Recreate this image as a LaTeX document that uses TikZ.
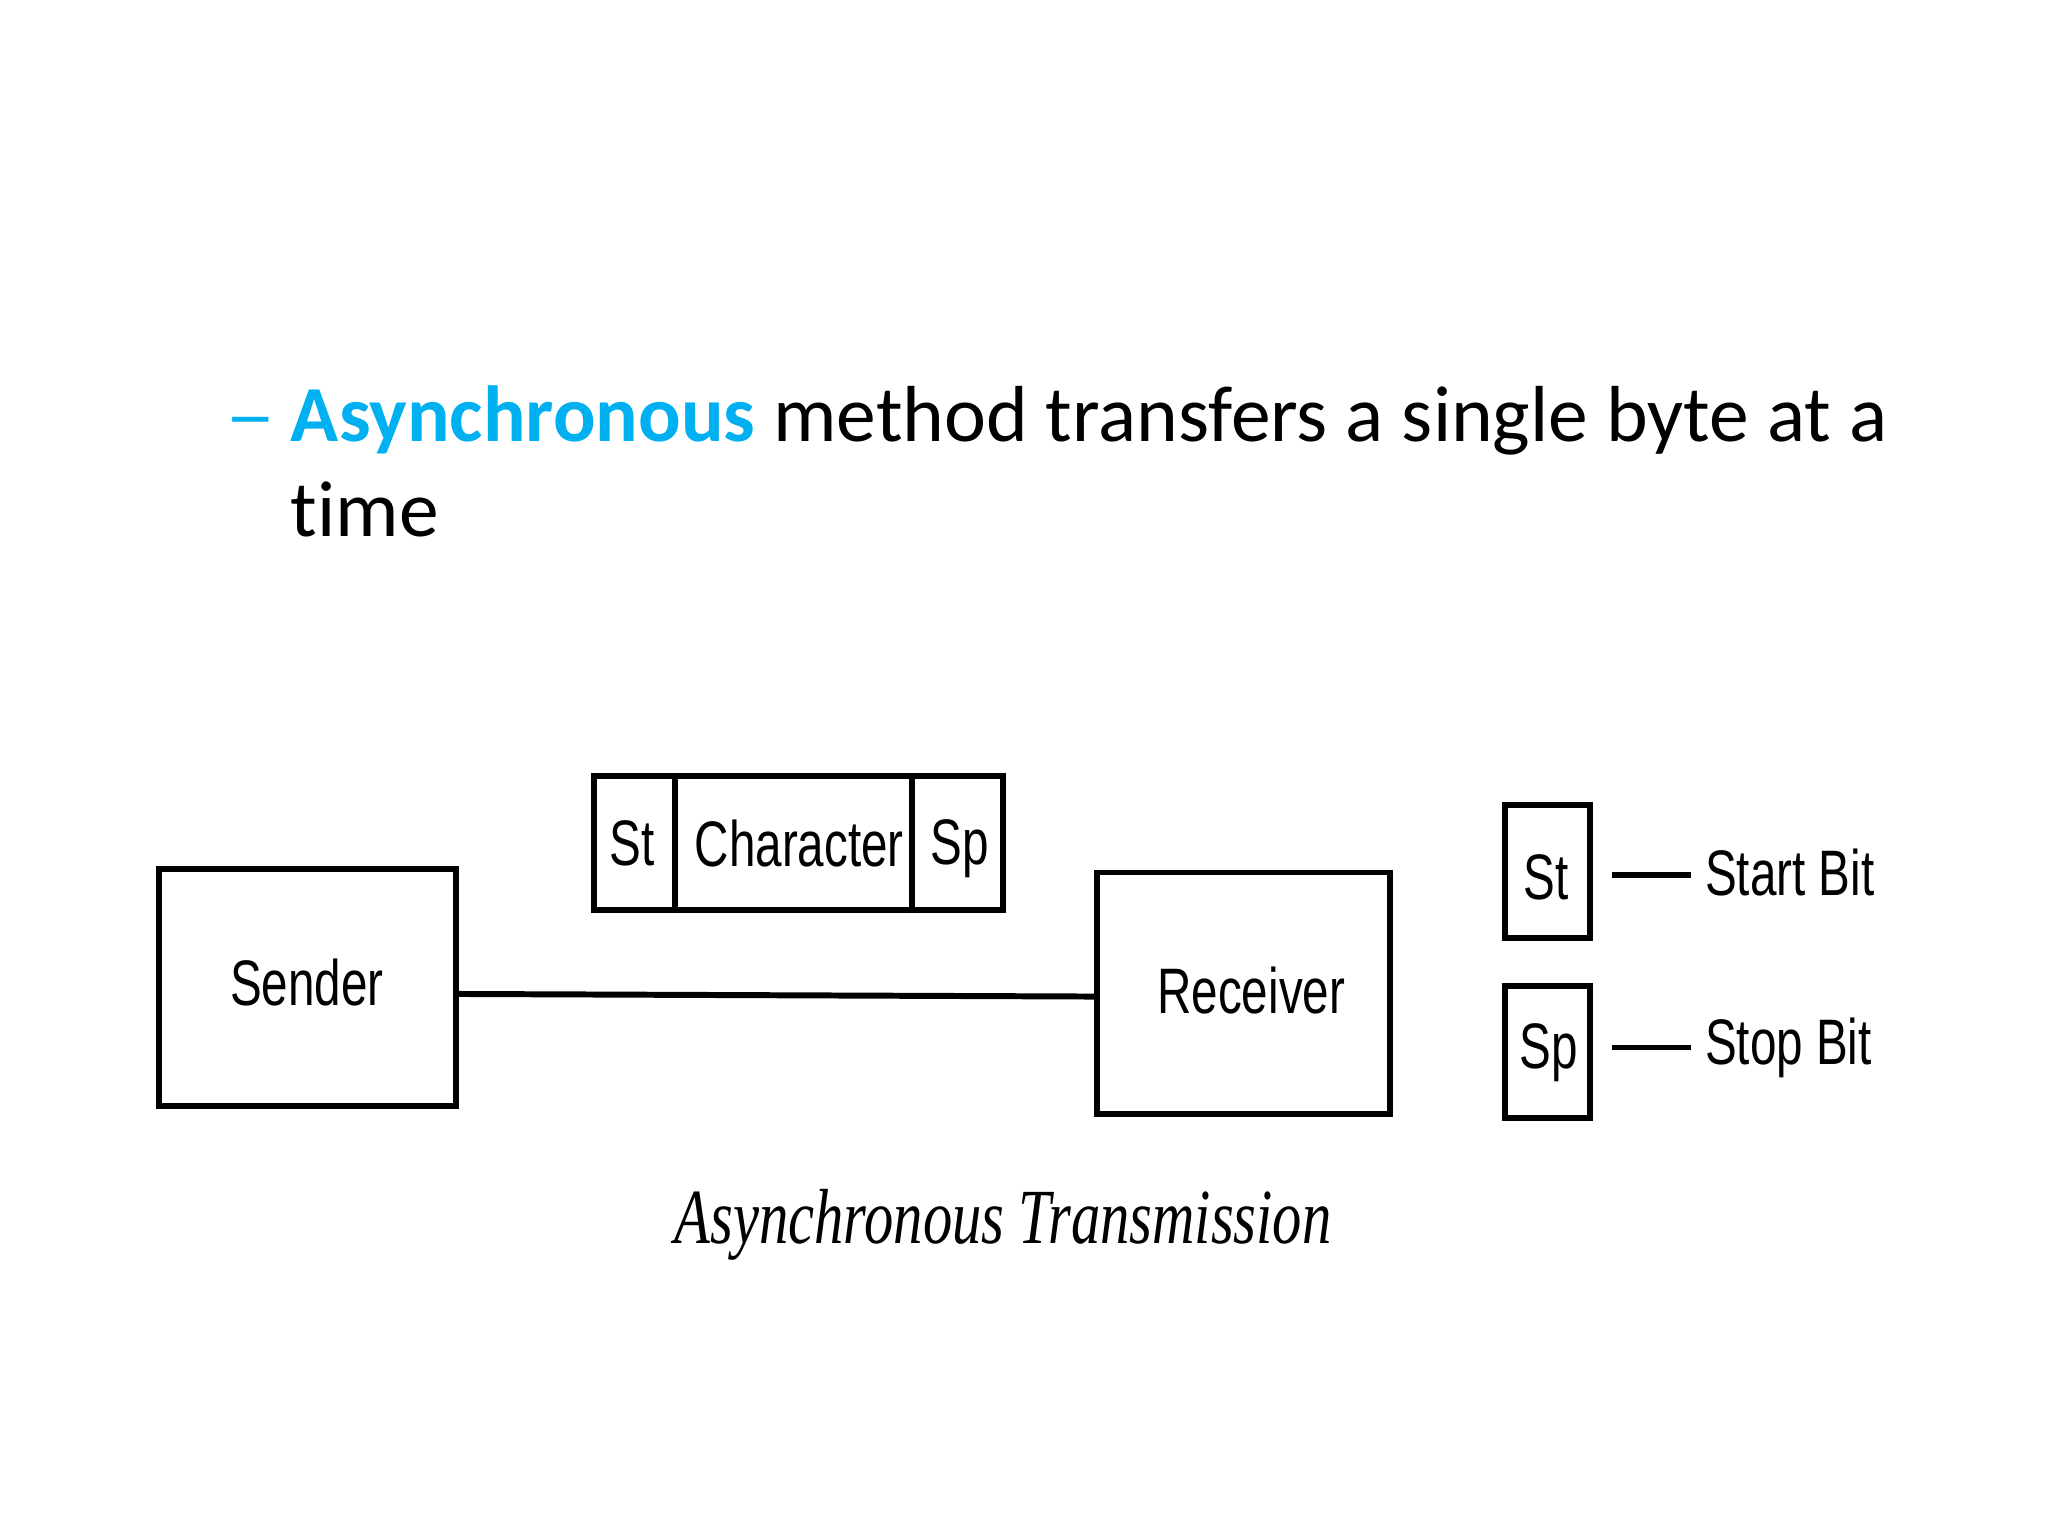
\documentclass[tikz,border=0pt]{standalone}
\usepackage{fontspec}
\setmainfont{Carlito}
\newfontfamily\diag{Liberation Sans}
\newfontfamily\capf{Liberation Serif}
\definecolor{cy}{HTML}{00B0F0}
\begin{document}
\begin{tikzpicture}[x=0.01cm,y=-0.01cm,
  bx/.style={draw,line width=1.3pt},
  dt/.style={font=\diag\fontsize{14pt}{16pt}\selectfont,xscale=0.74,inner sep=0}]
\useasboundingbox (0,0) rectangle (1568,1176);
\node[anchor=base west,inner sep=0,font=\fontsize{17pt}{20pt}\selectfont,text=cy,xscale=1.3] (d) at (172,338) {–};
\node[anchor=base west,inner sep=0,font=\fontsize{17.3pt}{20pt}\selectfont] (t1) at (222,338) {\textbf{\color{cy}Asynchronous} method transfers a single byte at a};
\node[anchor=base west,inner sep=0,font=\fontsize{17.3pt}{20pt}\selectfont] (t2) at (222,411) {t\kern0pt ime};
\draw[bx] (122,665) rectangle (349,847);
\node[dt] (snd) at (235,752) {Sender};
\draw[bx] (840,668) rectangle (1064,853);
\node[dt] (rcv) at (958,758) {Receiver};
\coordinate (a) at (349,761); \coordinate (b) at (840,763);
\draw[line width=1.3pt] (a) -- (b);
\draw[bx] (455,594) rectangle (768,697);
\draw[bx] (517,594) -- (517,697);
\draw[bx] (698,594) -- (698,697);
\node[dt] (f1) at (484,646) {St};
\node[dt] (f2) at (612,646) {Character};
\node[dt] (f3) at (735,650) {Sp};
\draw[bx] (1152,616) rectangle (1217,718);
\node[dt] (s1) at (1184,672) {St};
\draw[bx] (1152,755) rectangle (1217,856);
\node[dt] (s2) at (1186,806) {Sp};
\draw[line width=1.3pt] (1234,670) -- (1295,670);
\draw[line width=1.3pt] (1234,802) -- (1295,802);
\node[dt,anchor=west] (l1) at (1305,668) {Start Bit};
\node[dt,anchor=west] (l2) at (1305,802) {Stop Bit};
\node[font=\capf\itshape\fontsize{17pt}{20pt}\selectfont,xscale=0.75] (cap) at (768,938) {Asynchronous Transmission};
\end{tikzpicture}
\end{document}
